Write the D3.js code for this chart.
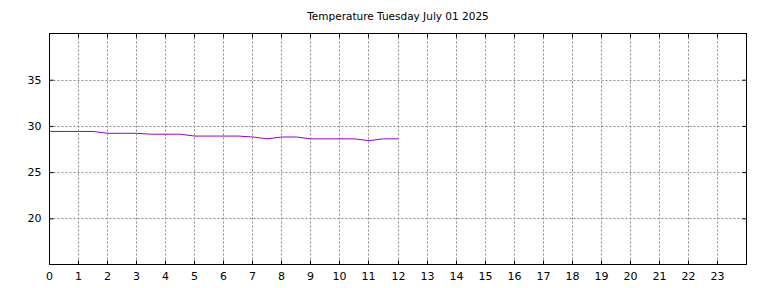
<!DOCTYPE html>
<html>
<head>
<meta charset="utf-8">
<script src="https://cdn.jsdelivr.net/npm/d3@7"></script>
<style>
  body { margin: 0; background: #fff; }
  svg { display: block; font-family: "DejaVu Sans", sans-serif; }
</style>
</head>
<body>
<svg id="chart" width="768" height="288"></svg>
<script>
// readings every half hour
var hours = [0, 0.5, 1, 1.5, 2, 2.5, 3, 3.5, 4, 4.5, 5, 5.5, 6, 6.5, 7, 7.5, 8, 8.5, 9, 9.5, 10, 10.5, 11, 11.5, 12];
var temps = [29.4, 29.4, 29.4, 29.4, 29.2, 29.2, 29.2, 29.1, 29.1, 29.1, 28.9, 28.9, 28.9, 28.9, 28.8, 28.6, 28.8, 28.8, 28.6, 28.6, 28.6, 28.6, 28.4, 28.6, 28.6];
var xTicks = d3.range(0, 24);
var yTicks = [20, 25, 30, 35];
var title = 'Temperature Tuesday July 01 2025';

var svg = d3.select('#chart');
var plotLeft = 49.5, plotRight = 746.5, plotTop = 33.5, plotBottom = 264.5;

var x = d3.scaleLinear().domain([0, 24]).range([plotLeft, plotRight]);
var y = d3.scaleLinear().domain([15, 40]).range([plotBottom, plotTop]);

// grid
svg.append('g')
  .selectAll('line')
  .data(xTicks.slice(1))
  .enter()
  .append('line')
  .attr('x1', d => Math.floor(x(d)) + 0.5)
  .attr('x2', d => Math.floor(x(d)) + 0.5)
  .attr('y1', plotTop)
  .attr('y2', plotBottom)
  .attr('stroke', '#888')
  .attr('stroke-dasharray', '2,2');

svg.append('g')
  .selectAll('line')
  .data(yTicks)
  .enter()
  .append('line')
  .attr('x1', plotLeft)
  .attr('x2', plotRight)
  .attr('y1', d => Math.round(y(d)) + 0.5)
  .attr('y2', d => Math.round(y(d)) + 0.5)
  .attr('stroke', '#888')
  .attr('stroke-dasharray', '2,2');

// series
var line = d3.line()
  .x((d, i) => x(hours[i]))
  .y(d => y(d));

svg.append('path')
  .datum(temps)
  .attr('d', line)
  .attr('fill', 'none')
  .attr('stroke', '#9400d3')
  .attr('stroke-width', 1);

// axes, ticks pointing inwards
var xAxis = svg.append('g')
  .attr('transform', `translate(0, ${plotBottom})`)
  .call(d3.axisBottom(x).tickValues(xTicks).tickSizeInner(-4).tickSizeOuter(0).tickPadding(8));
var xTop = svg.append('g')
  .attr('transform', `translate(0, ${plotTop})`)
  .call(d3.axisTop(x).tickValues(xTicks).tickSizeInner(-4).tickSizeOuter(0).tickFormat(''));
var yAxis = svg.append('g')
  .attr('transform', `translate(${plotLeft}, 0)`)
  .call(d3.axisLeft(y).tickValues(yTicks).tickSizeInner(-4).tickSizeOuter(0).tickPadding(8));
var yRight = svg.append('g')
  .attr('transform', `translate(${plotRight}, 0)`)
  .call(d3.axisRight(y).tickValues(yTicks).tickSizeInner(-4).tickSizeOuter(0).tickFormat(''));

[xAxis, xTop].forEach(g => {
  g.selectAll('.tick').attr('transform', d => `translate(${Math.floor(x(d)) + 0.5},0)`);
});

[xAxis, xTop, yAxis, yRight].forEach(g => {
  g.select('.domain').remove();
  g.selectAll('text').attr('font-size', 11).attr('fill', '#000').attr('font-family', '"DejaVu Sans", sans-serif');
});

svg.append('rect')
  .attr('x', plotLeft)
  .attr('y', plotTop)
  .attr('width', plotRight - plotLeft)
  .attr('height', plotBottom - plotTop)
  .attr('fill', 'none')
  .attr('stroke', '#000');

svg.append('text')
  .attr('x', (plotLeft + plotRight) / 2)
  .attr('y', 20)
  .attr('text-anchor', 'middle')
  .attr('font-size', 10.5)
  .text(title);
</script>
</body>
</html>
